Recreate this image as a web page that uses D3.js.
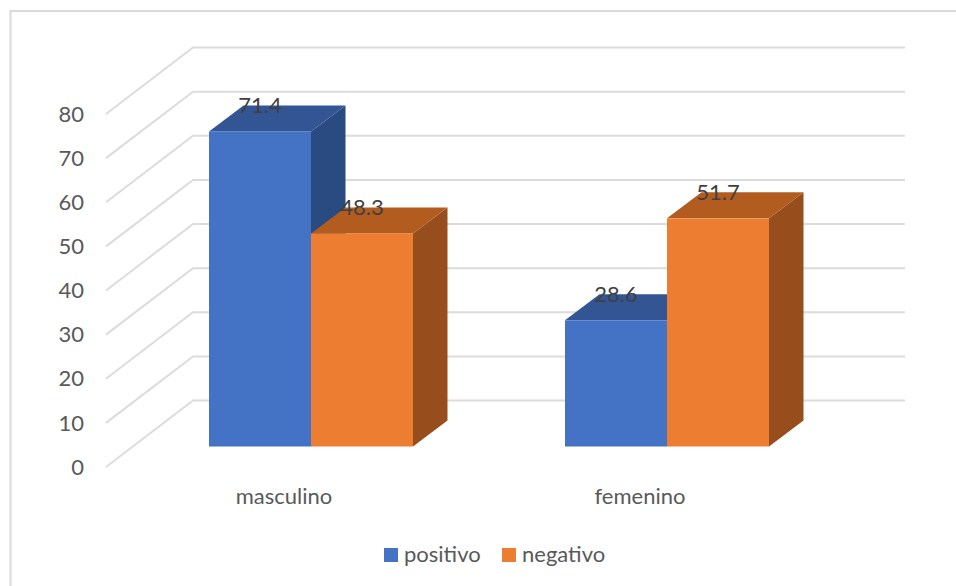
<html>
<head>
<style>
  body { margin: 0; background: #fff; }
  text { font-family: Lato, sans-serif; fill: #595959; }
</style>
<script src="https://d3js.org/d3.v7.min.js"></script>
</head>
<body>
<svg width="956" height="586"></svg>
<script>
let categories = ['masculino', 'femenino']
let seriesNames = ['positivo', 'negativo']
let positivo = [71.4, 28.6]
let negativo = [48.3, 51.7]
let yTicks = [0, 10, 20, 30, 40, 50, 60, 70, 80]

let colors = {
    positivo: {front: '#4472c4', top: '#335593', side: '#2a4a82'},
    negativo: {front: '#ed7d31', top: '#b35c20', side: '#974e1c'}
}

let svg = d3.select('svg')

// chart frame, runs off the right and bottom of the picture
svg.append('path')
    .attr('d', 'M10.5,586V11H956')
    .attr('fill', 'none')
    .attr('stroke', '#d9d9d9')
    .attr('stroke-width', 2)

// floor levels of the 3d box
let frontFloor = 467, backFloor = 400.5, barFloor = 446.5
let wallLeft = 193, wallRight = 905, frontLeft = 106
let barDx = 34.5, barDy = 26

let yScale = d3.scaleLinear().domain([0, 80]).range([0, 353])

let x0 = d3.scaleBand().domain(categories).range([133, 845])
    .paddingInner(0.427).paddingOuter(0.2135)
let x1 = d3.scaleBand().domain(seriesNames).range([0, x0.bandwidth()])

let grid = svg.append('g').attr('fill', 'none').attr('stroke', '#dcdcdc').attr('stroke-width', 2)
grid.selectAll('path')
    .data(yTicks)
    .enter()
    .append('path')
    .attr('d', d => 'M' + frontLeft + ',' + (frontFloor - yScale(d)) +
        'L' + wallLeft + ',' + (backFloor - yScale(d)) +
        'H' + wallRight)

svg.append('g').selectAll('text')
    .data(yTicks)
    .enter()
    .append('text')
    .attr('x', 84)
    .attr('y', d => frontFloor - yScale(d))
    .attr('dy', '0.35em')
    .attr('text-anchor', 'end')
    .attr('font-size', 22)
    .text(d => d)

// flatten to one record per bar, draw back to front
let bars = []
categories.forEach((c, i) => {
    bars.push({cat: c, name: 'positivo', value: positivo[i]})
    bars.push({cat: c, name: 'negativo', value: negativo[i]})
})

let barG = svg.append('g').selectAll('g')
    .data(bars)
    .enter()
    .append('g')
    .attr('transform', d => 'translate(' + (x0(d.cat) + x1(d.name)) + ',' + barFloor + ')')

let w = x1.bandwidth()

barG.append('path')
    .attr('fill', d => colors[d.name].side)
    .attr('d', d => {
        let h = yScale(d.value)
        return 'M' + w + ',0L' + (w + barDx) + ',' + (-barDy) + 'V' + (-h - barDy) + 'L' + w + ',' + (-h) + 'Z'
    })

barG.append('path')
    .attr('fill', d => colors[d.name].top)
    .attr('d', d => {
        let h = yScale(d.value)
        return 'M0,' + (-h) + 'L' + barDx + ',' + (-h - barDy) + 'H' + (w + barDx) + 'L' + w + ',' + (-h) + 'Z'
    })

barG.append('rect')
    .attr('y', d => -yScale(d.value))
    .attr('width', w)
    .attr('height', d => yScale(d.value))
    .attr('fill', d => colors[d.name].front)

// data labels sit on the top face, drawn after every bar
svg.append('g').selectAll('text')
    .data(bars)
    .enter()
    .append('text')
    .attr('x', d => x0(d.cat) + x1(d.name) + w / 2)
    .attr('y', d => barFloor - yScale(d.value) - 18)
    .attr('text-anchor', 'middle')
    .attr('font-size', 22)
    .style('fill', '#404040')
    .text(d => d.value)

svg.append('g').selectAll('text')
    .data(categories)
    .enter()
    .append('text')
    .attr('x', d => x0(d) + x0.bandwidth() / 2 - 27)
    .attr('y', 504)
    .attr('text-anchor', 'middle')
    .attr('font-size', 22)
    .text(d => d)

// legend
let legendX = d3.scaleOrdinal().domain(seriesNames).range([384, 502])
let legend = svg.append('g').selectAll('g')
    .data(seriesNames)
    .enter()
    .append('g')
    .attr('transform', d => 'translate(' + legendX(d) + ',548)')
legend.append('rect')
    .attr('width', 14)
    .attr('height', 14)
    .attr('fill', d => colors[d].front)
legend.append('text')
    .attr('x', 20)
    .attr('y', 14)
    .attr('font-size', 22)
    .text(d => d)
</script>
</body>
</html>
